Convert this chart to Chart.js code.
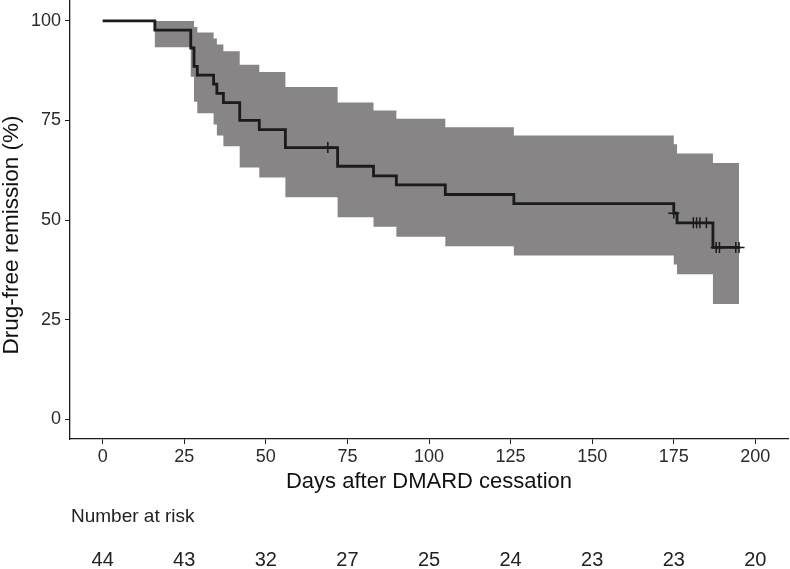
<!DOCTYPE html>
<html>
<head>
<meta charset="utf-8">
<script src="https://cdn.jsdelivr.net/npm/chart.js@4.4.1/dist/chart.umd.min.js"></script>
<style>
  html, body { margin: 0; padding: 0; background: #ffffff; }
  #wrap { width: 790px; height: 569px; }
</style>
</head>
<body>
<div id="wrap"><canvas id="kmChart" width="790" height="569"></canvas></div>
<script>
// Data
const stepTimes = [0, 16, 27, 28, 29, 34, 35, 37, 42, 48, 56, 72, 83, 90, 105, 126, 175, 176, 187, 195];
const survival  = [100, 97.7, 93.2, 88.6, 86.4, 84.1, 81.8, 79.5, 75.0, 72.7, 68.2, 63.5, 61.1, 58.8, 56.4, 54.1, 51.7, 49.3, 43.1, 43.1];
const ciLower   = [100, 93.4, 86.0, 79.7, 76.8, 74.0, 71.2, 68.5, 63.2, 60.7, 55.7, 50.7, 48.3, 45.8, 43.4, 41.1, 38.8, 36.4, 28.9, 28.9];
const ciUpper   = [100, 100, 100, 98.5, 97.1, 95.6, 94.1, 92.4, 89.0, 87.2, 83.4, 79.5, 77.5, 75.4, 73.3, 71.2, 69.0, 66.7, 64.3, 64.3];

const censorTimes = [69, 175, 181, 182, 183, 185, 188, 189, 194, 195];
const censorSurv  = [68.2, 51.7, 49.3, 49.3, 49.3, 49.3, 43.1, 43.1, 43.1, 43.1];

const xTicks = [0, 25, 50, 75, 100, 125, 150, 175, 200];
const yTicks = [0, 25, 50, 75, 100];
const riskTimes  = [0, 25, 50, 75, 100, 125, 150, 175, 200];
const riskCounts = [44, 43, 32, 27, 25, 24, 23, 23, 20];

const FONT = "'Liberation Sans', Arial, Helvetica, sans-serif";
const INK = '#1b1b1b';
const BAND = '#878586';

function toPoints(xs, ys) {
    return xs.map((x, i) => ({ x: x, y: ys[i] }));
}

// y title and risk table, drawn by hand so they sit where the reference has them
const extraText = {
    id: 'extraText',
    afterDraw(chart) {
        const ctx = chart.ctx;
        const xs = chart.scales.x;
        ctx.save();
        ctx.fillStyle = '#111';
        ctx.textBaseline = 'middle';
        ctx.textAlign = 'center';
        ctx.font = '22.5px ' + FONT;
        ctx.translate(12, 235);
        ctx.rotate(-Math.PI / 2);
        ctx.fillText('Drug-free remission (%)', 0, 0);
        ctx.restore();

        ctx.save();
        ctx.fillStyle = '#222';
        ctx.textBaseline = 'middle';
        ctx.font = '19px ' + FONT;
        ctx.textAlign = 'left';
        ctx.fillText('Number at risk', 71, 517);
        ctx.font = '20px ' + FONT;
        ctx.textAlign = 'center';
        riskTimes.forEach((t, i) => {
            ctx.fillText(String(riskCounts[i]), xs.getPixelForValue(t), 560);
        });
        ctx.restore();
    }
};

function createKMChart() {
    const ctx = document.getElementById('kmChart').getContext('2d');
    return new Chart(ctx, {
        type: 'line',
        data: {
            datasets: [
                {
                    label: 'upper',
                    data: toPoints(stepTimes, ciUpper),
                    stepped: 'before',
                    borderWidth: 0,
                    borderColor: 'rgba(0,0,0,0)',
                    backgroundColor: BAND,
                    pointRadius: 0,
                    fill: '+1',
                    order: 3
                },
                {
                    label: 'lower',
                    data: toPoints(stepTimes, ciLower),
                    stepped: 'before',
                    borderWidth: 0,
                    borderColor: 'rgba(0,0,0,0)',
                    pointRadius: 0,
                    fill: false,
                    order: 3
                },
                {
                    label: 'survival',
                    data: toPoints(stepTimes, survival),
                    stepped: 'before',
                    borderColor: INK,
                    borderWidth: 2.8,
                    pointRadius: 0,
                    fill: false,
                    order: 2
                },
                {
                    label: 'censored',
                    type: 'scatter',
                    data: toPoints(censorTimes, censorSurv),
                    pointStyle: 'cross',
                    pointRadius: 5.5,
                    borderColor: INK,
                    pointBorderWidth: 1.5,
                    showLine: false,
                    order: 1
                }
            ]
        },
        options: {
            responsive: false,
            animation: false,
            layout: { autoPadding: false, padding: { top: 1, right: 2, left: 0, bottom: 0 } },
            plugins: {
                legend: { display: false },
                tooltip: { enabled: false }
            },
            scales: {
                x: {
                    type: 'linear',
                    min: -10,
                    max: 210,
                    afterBuildTicks: s => { s.ticks = xTicks.map(v => ({ value: v })); },
                    afterFit: s => {
                        s.height = 130;
                        s.paddingLeft = 0;
                        s.paddingRight = 0;
                    },
                    grid: { drawOnChartArea: false, drawTicks: true, tickLength: 5, color: INK, lineWidth: 1 },
                    border: { display: true, color: INK, width: 1.3 },
                    ticks: { color: '#2a2a2a', font: { family: FONT, size: 18 }, padding: 2, maxRotation: 0 },
                    title: {
                        display: true,
                        text: 'Days after DMARD cessation',
                        color: '#111',
                        font: { family: FONT, size: 22 },
                        padding: { top: 0, bottom: 74 }
                    }
                },
                y: {
                    type: 'linear',
                    min: -5,
                    max: 105,
                    afterBuildTicks: s => { s.ticks = yTicks.map(v => ({ value: v })); },
                    afterFit: s => {
                        s.width = 70;
                        s.paddingTop = 0;
                        s.paddingBottom = 0;
                    },
                    grid: { drawOnChartArea: false, drawTicks: true, tickLength: 5, color: INK, lineWidth: 1 },
                    border: { display: true, color: INK, width: 1.3 },
                    ticks: { color: '#2a2a2a', font: { family: FONT, size: 18 }, padding: 4 },
                    title: { display: false }
                }
            }
        },
        plugins: [extraText]
    });
}

createKMChart();
</script>
</body>
</html>
